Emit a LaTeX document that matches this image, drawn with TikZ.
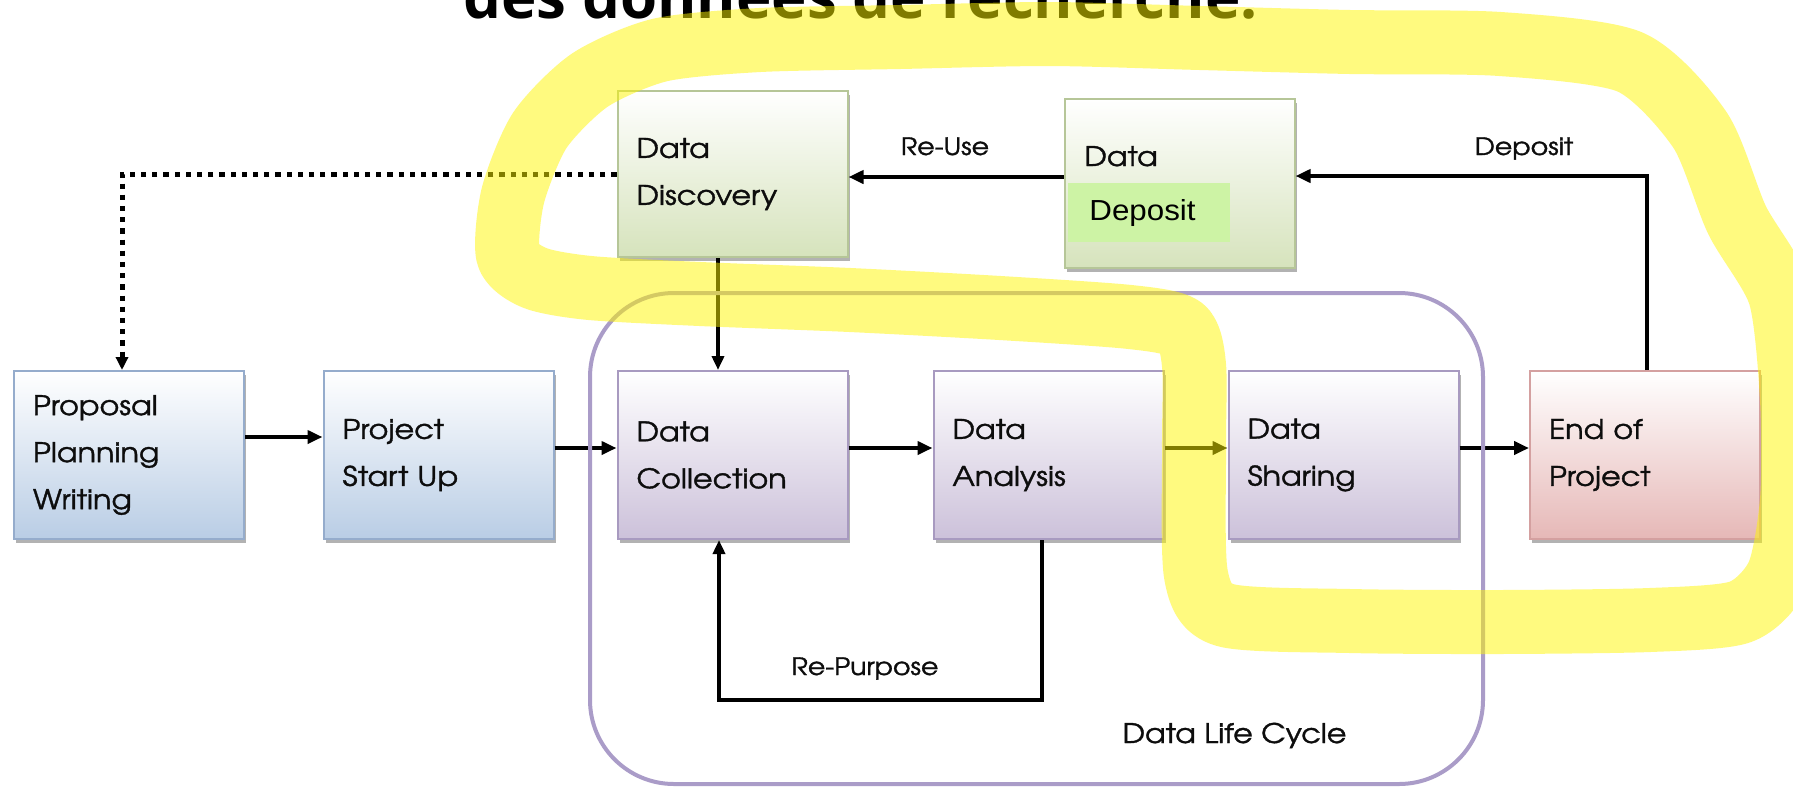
\documentclass[tikz,border=0pt]{standalone}
\usepackage{fontspec}
\usetikzlibrary{arrows.meta,shadows,calc}
\newfontfamily\boxfont[FakeStretch=1.12,FakeBold=1.3]{TeX Gyre Adventor}
\newfontfamily\titlefont{Open Sans}
\newfontfamily\arialfont[FakeStretch=1.08]{Liberation Sans}
\definecolor{bluebd}{RGB}{149,172,204}
\definecolor{bluebt}{RGB}{185,205,229}
\definecolor{purpbd}{RGB}{168,154,192}
\definecolor{purpbt}{RGB}{204,193,218}
\definecolor{greenbd}{RGB}{182,198,152}
\definecolor{greenbt}{RGB}{214,227,188}
\definecolor{redbd}{RGB}{212,160,160}
\definecolor{redbt}{RGB}{230,184,183}
\definecolor{lcol}{RGB}{170,156,200}
\definecolor{hilite}{RGB}{255,246,0}
\definecolor{depgreen}{RGB}{205,243,165}
\begin{document}
\begin{tikzpicture}[x=0.5pt,y=-0.5pt,
  boxbase/.style={rectangle, line width=1pt, minimum width=115pt, minimum height=84pt,
    inner xsep=9.5pt, text width=96pt, align=left, text=black!95,
    font=\boxfont\fontsize{13.5pt}{23.5pt}\selectfont,
    drop shadow={shadow xshift=1pt, shadow yshift=-2.2pt, opacity=0.3, fill=black}},
  bluebox/.style={boxbase, draw=bluebd, top color=white, bottom color=bluebt},
  purpbox/.style={boxbase, draw=purpbd, top color=white, bottom color=purpbt},
  greenbox/.style={boxbase, draw=greenbd, top color=white, bottom color=greenbt},
  redbox/.style={boxbase, draw=redbd, top color=white, bottom color=redbt},
  arr/.style={line width=2.4pt, line join=miter, -{Triangle[length=7.5pt,width=6.5pt]}},
  thinarr/.style={line width=2.1pt, -{Triangle[length=7pt,width=6pt]}},
  dotline/.style={line width=2.5pt, dash pattern=on 2.6pt off 3pt, -{Triangle[length=6.5pt,width=6pt]}},
  lbl/.style={inner sep=0pt, anchor=base, text=black!95, font=\boxfont\fontsize{12pt}{14pt}\selectfont}
]
\useasboundingbox (0,0) rectangle (1793,788);
\clip (0,0) rectangle (1793,788);
\fill[white] (0,0) rectangle (1793,788);

% title (cut off at the top, as in the reference)
\node[anchor=base west, inner sep=0pt, font=\titlefont\bfseries\fontsize{30pt}{36pt}\selectfont] (title) at (463,18) {des données de recherche.};

% boxes
\node[bluebox] (prop) at (129,455) {Proposal\\Planning\\Writing};
\node[bluebox, minimum width=113.5pt] (proj) at (438.5,455) {Project\\Start Up};
\node[purpbox] (coll) at (732.5,455) {Data\\Collection};
\node[purpbox] (anal) at (1048.5,455) {Data\\Analysis};
\node[purpbox] (shar) at (1343.5,455) {Data\\Sharing};
\node[redbox] (endp) at (1645,455) {End of\\Project};
\node[greenbox, minimum height=83pt] (disc) at (732.5,174) {Data\\Discovery};
\node[greenbox, minimum height=84.5pt] (dep) at (1179.5,183.5) {};
\node[anchor=base west, inner sep=0pt, text=black!95, font=\boxfont\fontsize{13.5pt}{23.5pt}\selectfont] (depdata) at (1084,166) {Data};
\node[anchor=north west, fill=depgreen, minimum width=81pt, minimum height=29.5pt,
  inner xsep=10.5pt, text width=60pt, align=left, font=\arialfont\fontsize{14.5pt}{17pt}\selectfont] (depbox) at (1068,183) {Deposit};

% connectors
\draw[arr] (prop.east |- 0,437) -- (proj.west |- 0,437);
\draw[arr] (proj.east |- 0,448) -- (coll.west |- 0,448);
\draw[arr] (coll.east |- 0,448) -- (anal.west |- 0,448);
\draw[arr] (anal.east |- 0,448) -- (shar.west |- 0,448);
\draw[arr] (shar.east |- 0,448) -- (endp.west |- 0,448);
\draw[thinarr] (disc.south -| 718,0) -- (coll.north -| 718,0);
\draw[arr] (dep.west |- 0,177) -- (disc.east |- 0,177);
\draw[arr] (endp.north -| 1647,0) |- (dep.east |- 0,176);
\draw[thinarr] (anal.south -| 1042,0) -- (1042,700) -| (coll.south -| 719,0);
\draw[dotline] (disc.west) -| ($(prop.north west)+(109,0)$);

% life cycle frame
\node[draw=lcol, line width=2pt, rounded corners=42pt, minimum width=446.5pt, minimum height=245.5pt, inner sep=0pt] (lc) at (1036.5,538.5) {};

% labels
\node[lbl] (lreuse) at (945,155) {Re-Use};
\node[lbl] (ldep) at (1524,155) {Deposit};
\node[lbl] (lrep) at (865,675) {Re-Purpose};
\node[lbl, font=\boxfont\fontsize{13.5pt}{16pt}\selectfont] (llc) at (1234.5,743) {Data Life Cycle};

% yellow highlighter stroke
\draw[hilite, draw opacity=0.5, line width=32pt, line join=round, line cap=round]
  plot[smooth cycle, tension=0.45] coordinates {
  (508,255) (513,195) (540,130) (590,80) (660,50) (760,40) (900,37) (1050,34)
  (1200,38) (1350,42) (1500,44) (1630,62) (1700,130) (1737,220) (1780,295)
  (1792,400) (1792,500) (1778,575) (1740,612) (1650,620) (1500,622) (1350,621)
  (1225,615) (1196,575) (1194,450) (1194,365) (1182,328) (1130,317) (1000,308)
  (850,300) (700,294) (590,288) (535,278)};
\end{tikzpicture}
\end{document}
